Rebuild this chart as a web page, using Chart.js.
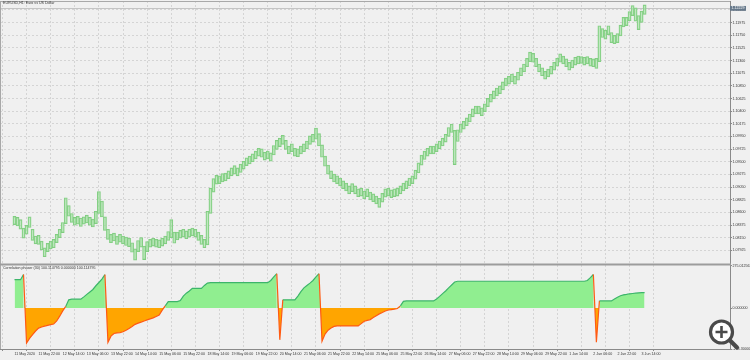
<!DOCTYPE html>
<html><head><meta charset="utf-8">
<script src="https://cdn.jsdelivr.net/npm/chart.js@4.4.1/dist/chart.umd.min.js"></script>
<style>
html,body{margin:0;padding:0;background:#f0f0f0;}
#wrap{position:relative;width:750px;height:360px;overflow:hidden;}
canvas{position:absolute;left:0;top:0;}
.lbl{position:absolute;font-family:'Liberation Sans',Arial,sans-serif;font-size:3.6px;color:#333;white-space:nowrap;line-height:1;}
</style></head><body>
<div id="wrap"><canvas id="c" width="750" height="360"></canvas>
<div class="lbl" style="left:3px;top:2.3px">EURUSD,H1: Euro vs US Dollar</div>
<div class="lbl" style="left:3px;top:266.6px">Correlation phaser (30) 100.114795 0.000000 100.114795</div>
</div>
<script>
const timeLabels = ['11 May 2020','11 May 22:00','12 May 14:00','13 May 06:00','13 May 22:00','14 May 14:00','15 May 06:00','15 May 22:00','18 May 14:00','19 May 06:00','19 May 22:00','20 May 14:00','21 May 06:00','21 May 22:00','22 May 14:00','25 May 06:00','25 May 22:00','26 May 14:00','27 May 06:00','27 May 22:00','28 May 14:00','29 May 06:00','29 May 22:00','1 Jun 14:00','2 Jun 06:00','2 Jun 22:00','3 Jun 14:00'];
const barsPerLabel = 8;
const priceTicks = [1.07925,1.08150,1.08375,1.08600,1.08825,1.09050,1.09275,1.09500,1.09725,1.09950,1.10175,1.10400,1.10625,1.10850,1.11075,1.11300,1.11525,1.11750,1.11975,1.12200];
const phaserTicks = [-265.3, 0, 275.012563];
const bidPrice = 1.12229;

const highs = [
1.0853,1.0851,1.0847,1.0832,1.0837,1.0852,1.0830,1.0818,1.0819,1.0809,
1.0797,1.0805,1.0809,1.0812,1.0821,1.0830,1.0842,1.0886,1.0872,1.0858,
1.0851,1.0853,1.0850,1.0852,1.0855,1.0851,1.0848,1.0862,1.0897,1.0880,
1.0852,1.0830,1.0821,1.0823,1.0818,1.0821,1.0818,1.0816,1.0814,1.0806,
1.0795,1.0810,1.0815,1.0800,1.0808,1.0812,1.0814,1.0812,1.0811,1.0814,
1.0818,1.0826,1.0847,1.0825,1.0825,1.0828,1.0830,1.0827,1.0830,1.0832,
1.0830,1.0825,1.0819,1.0812,1.0862,1.0903,1.0920,1.0926,1.0925,1.0929,
1.0930,1.0934,1.0939,1.0943,1.0939,1.0946,1.0951,1.0957,1.0960,1.0964,
1.0969,1.0974,1.0973,1.0967,1.0969,1.0966,1.0979,1.0988,1.0992,1.0997,
1.0988,1.0978,1.0982,1.0974,1.0973,1.0978,1.0982,1.0987,1.0996,1.0999,
1.1010,1.1000,1.0980,1.0960,1.0944,1.0934,1.0928,1.0925,1.0921,1.0916,
1.0912,1.0907,1.0911,1.0907,1.0902,1.0903,1.0898,1.0902,1.0896,1.0893,
1.0889,1.0885,1.0894,1.0902,1.0903,1.0900,1.0902,1.0903,1.0907,1.0912,
1.0916,1.0921,1.0925,1.0935,1.0948,1.0962,1.0969,1.0974,1.0978,1.0978,
1.0982,1.0987,1.0992,1.0999,1.1011,1.1017,1.1006,1.1007,1.1017,1.1022,
1.1028,1.1035,1.1044,1.1049,1.1049,1.1046,1.1053,1.1063,1.1070,1.1076,
1.1081,1.1085,1.1092,1.1099,1.1102,1.1106,1.1102,1.1109,1.1117,1.1124,
1.1134,1.1145,1.1143,1.1134,1.1124,1.1117,1.1111,1.1115,1.1120,1.1127,
1.1134,1.1142,1.1138,1.1133,1.1127,1.1131,1.1136,1.1138,1.1137,1.1136,
1.1137,1.1134,1.1133,1.1134,1.1192,1.1187,1.1184,1.1192,1.1180,1.1175,
1.1178,1.1193,1.1207,1.1207,1.1217,1.1228,1.1224,1.1210,1.1218,1.1229];

const lows = [
1.0838,1.0836,1.0830,1.0814,1.0821,1.0833,1.0810,1.0804,1.0803,1.0793,
1.0781,1.0790,1.0795,1.0797,1.0806,1.0815,1.0824,1.0840,1.0853,1.0842,
1.0837,1.0839,1.0835,1.0839,1.0841,1.0837,1.0834,1.0840,1.0858,1.0852,
1.0828,1.0812,1.0806,1.0809,1.0803,1.0807,1.0804,1.0801,1.0799,1.0789,
1.0775,1.0790,1.0798,1.0776,1.0790,1.0798,1.0800,1.0798,1.0797,1.0800,
1.0804,1.0810,1.0815,1.0805,1.0811,1.0814,1.0816,1.0813,1.0816,1.0818,
1.0816,1.0810,1.0803,1.0797,1.0802,1.0858,1.0896,1.0910,1.0911,1.0914,
1.0916,1.0920,1.0925,1.0928,1.0925,1.0931,1.0937,1.0943,1.0946,1.0950,
1.0955,1.0960,1.0958,1.0953,1.0955,1.0951,1.0962,1.0972,1.0977,1.0981,
1.0972,1.0964,1.0968,1.0960,1.0959,1.0964,1.0968,1.0973,1.0981,1.0985,
1.0990,1.0978,1.0958,1.0942,1.0928,1.0920,1.0914,1.0911,1.0907,1.0902,
1.0898,1.0893,1.0897,1.0893,1.0888,1.0889,1.0884,1.0888,1.0882,1.0879,
1.0875,1.0869,1.0878,1.0887,1.0889,1.0886,1.0888,1.0889,1.0893,1.0898,
1.0902,1.0907,1.0911,1.0919,1.0930,1.0944,1.0954,1.0960,1.0964,1.0964,
1.0968,1.0973,1.0978,1.0985,1.0995,1.1002,1.0945,1.0986,1.1002,1.1008,
1.1014,1.1021,1.1030,1.1035,1.1035,1.1032,1.1039,1.1048,1.1056,1.1062,
1.1067,1.1071,1.1078,1.1085,1.1088,1.1092,1.1088,1.1095,1.1103,1.1110,
1.1119,1.1128,1.1127,1.1119,1.1110,1.1103,1.1097,1.1101,1.1106,1.1113,
1.1120,1.1127,1.1124,1.1119,1.1113,1.1117,1.1122,1.1124,1.1125,1.1122,
1.1124,1.1120,1.1119,1.1116,1.1128,1.1171,1.1168,1.1176,1.1162,1.1160,
1.1162,1.1174,1.1190,1.1192,1.1201,1.1210,1.1200,1.1185,1.1198,1.1212];

const phaser = [
183,183,183,217,-227,-197,-173,-149,-130,-123,
-117,-112,-108,-104,-84,-53,-19,10,53,57,
57,57,57,72,88,104,120,144,165,187,
216,-222,-182,-165,-161,-159,-154,-144,-132,-120,
-106,-98,-91,-84,-77,-70,-64,-55,-46,-14,
14,41,41,41,41,48,77,96,110,127,
127,127,127,146,161,164,164,164,164,164,
164,164,164,164,164,164,164,164,164,164,
164,164,164,164,164,178,202,222,-206,53,
53,53,53,53,77,106,130,146,161,178,
202,222,-215,-169,-144,-130,-119,-116,-116,-116,
-116,-116,-116,-116,-116,-101,-86,-80,-75,-62,
-50,-38,-29,-19,-13,-10,-7,-3,14,43,
46,46,46,46,46,46,46,46,46,46,
58,75,93,110,130,149,168,173,173,173,
173,173,173,173,173,173,173,173,173,173,
173,173,173,173,173,173,173,173,173,173,
173,173,173,173,173,173,173,173,173,173,
173,173,173,173,173,173,173,173,173,173,
178,197,217,-222,46,46,46,46,46,58,
69,79,85,88,92,94,96,98,99,100.11];

const FONT = {family:"'Liberation Sans', Arial, sans-serif", size:3.6};
const TXT = '#333';
const pxPerBar = 3.131;

const deco = {
  id:'deco',
  beforeDatasetsDraw(chart){
    const {ctx, chartArea:a} = chart; const y = chart.scales.y;
    const py = Math.round(y.getPixelForValue(bidPrice)) + 0.5;
    ctx.save(); ctx.strokeStyle = '#c4c4c4'; ctx.lineWidth = 1;
    ctx.beginPath(); ctx.moveTo(a.left, py); ctx.lineTo(a.right, py); ctx.stroke(); ctx.restore();
  },
  afterDraw(chart){
    const {ctx, chartArea:a} = chart; const y = chart.scales.y;
    ctx.save();
    ctx.strokeStyle = '#a8a8a8'; ctx.lineWidth = 1;
    ctx.beginPath(); ctx.moveTo(0, a.top + 0.5); ctx.lineTo(a.right, a.top + 0.5);
    ctx.moveTo(0.5, a.top); ctx.lineTo(0.5, a.bottom); ctx.stroke();
    ctx.fillStyle = '#9c9c9c';
    ctx.fillRect(0, y.bottom - 2, a.right + 1, 2);
    const py = y.getPixelForValue(bidPrice);
    ctx.fillStyle = '#66788a';
    ctx.fillRect(a.right, py - 2.4, 16, 4.8);
    ctx.fillStyle = '#fff';
    ctx.font = "3.6px 'Liberation Sans', Arial, sans-serif";
    ctx.textBaseline = 'middle'; ctx.textAlign = 'left';
    ctx.fillText(bidPrice.toFixed(5), a.right + 1.5, py);
    ctx.beginPath(); ctx.arc(721.5, 332, 11, 0, 2*Math.PI);
    ctx.fillStyle = '#ffffff'; ctx.fill();
    ctx.lineWidth = 3.2; ctx.strokeStyle = '#4a4a4a'; ctx.stroke();
    ctx.lineWidth = 2.6; ctx.beginPath();
    ctx.moveTo(715.5, 332); ctx.lineTo(727.5, 332);
    ctx.moveTo(721.5, 326); ctx.lineTo(721.5, 338); ctx.stroke();
    ctx.lineWidth = 4.2; ctx.lineCap = 'round'; ctx.beginPath();
    ctx.moveTo(730, 340.5); ctx.lineTo(737, 347.5); ctx.stroke();
    ctx.restore();
  }
};

const fixW = s => { s.width = 20; s.paddingTop = 0; s.paddingBottom = 0; };

new Chart(document.getElementById('c'), {
  data: {
    datasets: [
      {
        type:'bar', xAxisID:'x', yAxisID:'y',
        data: highs.map((h, i) => ({x:i, y:[lows[i], h]})),
        backgroundColor:'rgba(170,228,170,0.55)', borderColor:'#7fcc7f', borderWidth:0.8,
        borderSkipped:false, barThickness:3.1, grouped:false
      },
      {
        type:'line', xAxisID:'x', yAxisID:'y2',
        data: phaser.map((v, i) => ({x:i, y:v})),
        borderWidth:1.2, pointRadius:0, tension:0,
        fill:{target:'origin', above:'#90ee90', below:'#ffa500'},
        segment:{borderColor: c => (c.p0.parsed.y < 0 || c.p1.parsed.y < 0) ? '#ff5a14' : '#3cb56a'}
      }
    ]
  },
  options: {
    responsive:false, animation:false,
    layout:{padding:{top:1, left:0, right:0, bottom:0}},
    plugins:{legend:{display:false}, tooltip:{enabled:false}},
    scales:{
      x:{
        type:'linear', position:'bottom',
        min: -1/pxPerBar, max: -1/pxPerBar + 730/pxPerBar,
        afterBuildTicks: s => { s.ticks = timeLabels.map((_, k) => ({value: k*barsPerLabel})); },
        afterFit: s => { s.height = 11; s.paddingLeft = 0; s.paddingRight = 0; },
        ticks:{autoSkip:false, maxRotation:0, minRotation:0, align:'start', padding:1, font:FONT, color:TXT,
          callback: v => timeLabels[Math.round(v/barsPerLabel)]},
        grid:{color:'#d4d4d4', lineWidth:1, tickLength:2, tickColor:'#8a8a8a'},
        border:{display:true, color:'#8a8a8a', dash:[2,2]}
      },
      y:{
        type:'linear', position:'right', stack:'panes', stackWeight:264.5,
        min:1.076546, max:1.123601,
        afterBuildTicks: s => { s.ticks = priceTicks.map(v => ({value:v})); },
        afterFit: fixW,
        ticks:{autoSkip:false, padding:0.5, font:FONT, color:TXT, callback: v => v.toFixed(5)},
        grid:{color:'#d4d4d4', lineWidth:1, tickLength:2, tickColor:'#8a8a8a'},
        border:{display:true, color:'#8a8a8a', dash:[2,2]}
      },
      y2:{
        type:'linear', position:'right', stack:'panes', stackWeight:83.5,
        min:phaserTicks[0], max:phaserTicks[2],
        afterBuildTicks: s => { s.ticks = phaserTicks.map(v => ({value:v})); },
        afterFit: fixW,
        ticks:{autoSkip:false, padding:0.5, font:FONT, color:TXT, callback: v => v.toFixed(6)},
        grid:{drawOnChartArea:false, tickLength:2, tickColor:'#8a8a8a'},
        border:{display:true, color:'#8a8a8a'}
      }
    }
  },
  plugins:[deco]
});
</script>
</body></html>
